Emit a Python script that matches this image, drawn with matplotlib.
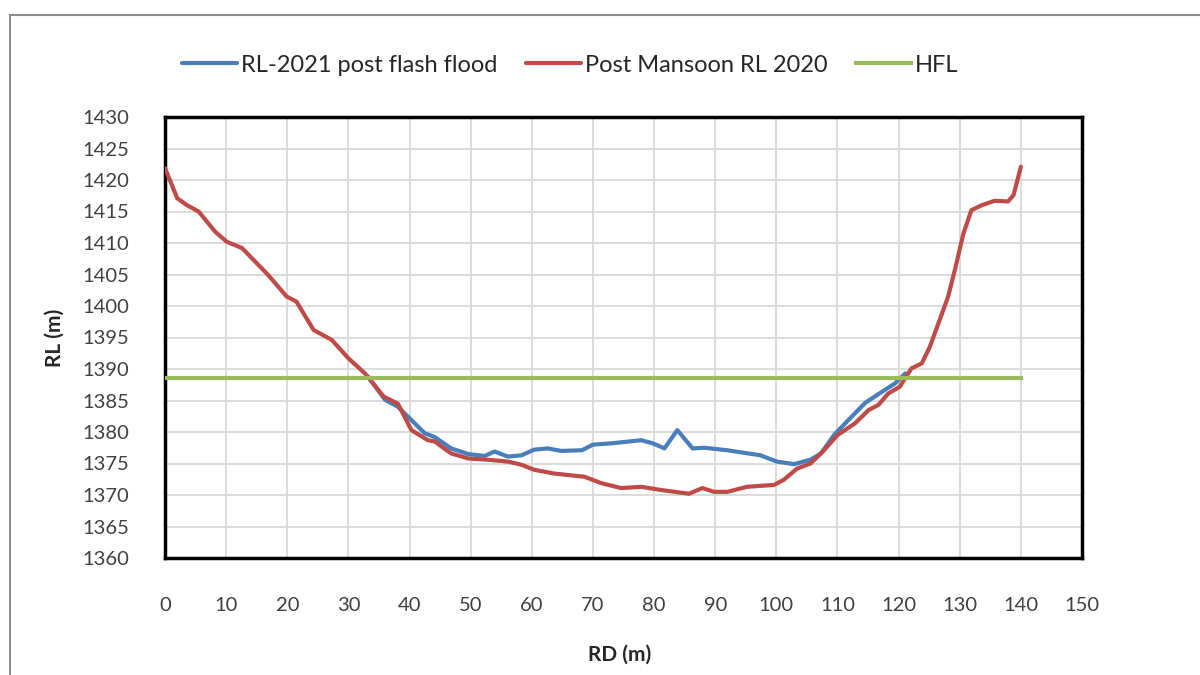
import matplotlib
matplotlib.use("Agg")
import matplotlib.pyplot as plt
from matplotlib.patches import Rectangle

# ---- data ----
red_x = [0, 2, 3.6, 5.5, 8.2, 10.1, 12.6, 14.2, 16.9, 19.9, 21.5, 24.3, 27.3, 30.0,
         32.7, 35.8, 38.1, 40.3, 43.0, 44.1, 46.8, 49.6, 52.8, 56.1, 58.3, 60.4,
         63.7, 68.6, 71.3, 74.6, 77.9, 81.1, 85.7, 87.9, 89.8, 92.0, 95.2, 99.6,
         101.2, 103.4, 105.6, 107.7, 110.0, 112.9, 115.1, 116.7, 118.3, 120.2,
         122.1, 123.8, 125.1, 126.5, 128.1, 129.2, 130.6, 131.9, 133.6, 135.7,
         137.9, 138.8, 140.0]
red_y = [1421.9, 1417.1, 1416.0, 1415.0, 1411.8, 1410.2, 1409.2, 1407.6, 1404.9,
         1401.5, 1400.7, 1396.2, 1394.6, 1391.7, 1389.3, 1385.6, 1384.5, 1380.3,
         1378.7, 1378.5, 1376.6, 1375.8, 1375.6, 1375.3, 1374.8, 1374.0, 1373.4,
         1372.9, 1371.9, 1371.1, 1371.3, 1370.8, 1370.2, 1371.1, 1370.5, 1370.5,
         1371.3, 1371.6, 1372.4, 1374.2, 1375.0, 1377.0, 1379.5, 1381.4, 1383.5,
         1384.3, 1386.1, 1387.2, 1390.1, 1390.9, 1393.5, 1397.2, 1401.5, 1405.7,
         1411.5, 1415.2, 1416.0, 1416.7, 1416.6, 1417.6, 1422.1]

blue_x = [33.2, 36.0, 38.1, 40.3, 42.5, 44.1, 46.8, 49.6, 52.3, 53.9, 56.1, 58.3,
          60.4, 62.6, 64.8, 68.2, 70.0, 73.0, 77.9, 79.8, 81.7, 83.8, 86.3, 88.2,
          92.0, 97.4, 100.1, 102.9, 105.6, 107.3, 109.5, 111.8, 114.5, 117.3,
          119.4, 121.1]
blue_y = [1388.8, 1385.1, 1384.0, 1381.9, 1379.8, 1379.2, 1377.4, 1376.5, 1376.2,
          1376.9, 1376.1, 1376.3, 1377.2, 1377.4, 1377.0, 1377.1, 1378.0, 1378.2,
          1378.7, 1378.2, 1377.4, 1380.3, 1377.4, 1377.5, 1377.1, 1376.3, 1375.3,
          1374.9, 1375.6, 1376.6, 1379.6, 1381.9, 1384.6, 1386.4, 1387.7, 1389.3]

hfl_x = [0, 140]
hfl_y = [1388.6, 1388.6]

labels = ["RL-2021 post flash flood", "Post Mansoon RL 2020", "HFL"]
x_ticks = list(range(0, 151, 10))
y_ticks = list(range(1360, 1431, 5))

# ---- figure ----
plt.rcParams['font.family'] = ['Lato', 'DejaVu Sans']
fig = plt.figure(figsize=(12, 6.75), dpi=100)
ax = fig.add_axes([165/1200, 1-558/675, (1082-165)/1200, (558-117)/675])

fig.patches.append(Rectangle((10/1200, -0.1), 1.2, 1-15/675+0.1, transform=fig.transFigure,
                             fill=False, edgecolor='#8c8c8c', linewidth=1.5))

lw = 3.0
l1, = ax.plot(blue_x, blue_y, color='#4A7EBB', lw=lw, solid_joinstyle='round',
              solid_capstyle='round', zorder=3)
l2, = ax.plot(red_x, red_y, color='#BE4B48', lw=lw, solid_joinstyle='round',
              solid_capstyle='round', zorder=4)
l3, = ax.plot(hfl_x, hfl_y, color='#9BBB59', lw=lw, zorder=5)

ax.set_xlim(0, 150)
ax.set_ylim(1360, 1430)
ax.set_xticks(x_ticks)
ax.set_yticks(y_ticks)
ax.grid(True, color='#d9d9d9', linewidth=1.3)
ax.set_axisbelow(True)
for s in ax.spines.values():
    s.set_linewidth(2.5)
    s.set_color('black')
ax.tick_params(axis='both', length=0, labelsize=14.5, colors='#404040')
ax.tick_params(axis='x', pad=28)
ax.tick_params(axis='y', pad=26)

ax.set_xlabel("RD (m)", fontsize=15, fontweight='bold', color='#262626')
ax.set_ylabel("RL (m)", fontsize=15, fontweight='bold', color='#262626')
ax.xaxis.set_label_coords((620-165)/917, -(655-558)/441)
ax.xaxis.label.set_va('center')
ax.yaxis.set_label_coords((55-165)/917, (558-338)/441)
ax.yaxis.label.set_va('center')

fig.legend([l1, l2, l3], labels, loc='center', bbox_to_anchor=(570/1200, 1-65/675),
           ncol=3, frameon=False, fontsize=17, handlelength=2.35, handletextpad=0.15,
           columnspacing=1.2, labelcolor='#262626')

fig.savefig("out.png", dpi=100)
